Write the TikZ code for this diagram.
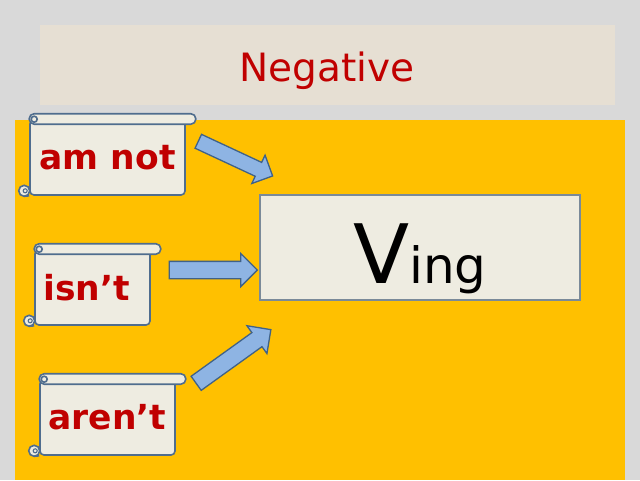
\documentclass[tikz,border=0pt]{standalone}
\usepackage{fontspec}
\setmainfont{DejaVu Sans}
\usetikzlibrary{calc,shapes.arrows}
\definecolor{bggray}{HTML}{D9D9D9}
\definecolor{titlebg}{HTML}{E6DFD3}
\definecolor{panel}{HTML}{FFC000}
\definecolor{redtxt}{HTML}{C00000}
\definecolor{scrollfill}{HTML}{EEECE1}
\definecolor{scrollline}{HTML}{4F6D8E}
\definecolor{boxline}{HTML}{7A8A99}
\definecolor{arrowfill}{HTML}{8EB4E3}
\definecolor{arrowline}{HTML}{3F6288}
\tikzset{
  scrollstyle/.style={draw=scrollline, line width=1.6pt},
  scrollbody/.style={scrollstyle, fill=scrollfill, rectangle, rounded corners=4pt,
     inner sep=0pt, text=redtxt, font=\fontsize{34.5}{34.5}\selectfont\bfseries},
  blockarrow/.style={single arrow, draw=arrowline, fill=arrowfill, line width=1.3pt,
     inner xsep=0pt, single arrow tip angle=90, single arrow head indent=0pt},
}
\newcommand\scrolldeco[1]{%
  \draw[scrollstyle, fill=scrollfill, rounded corners=5pt]
     ($(#1.north west)+(0,-5.5)$) rectangle ($(#1.north east)+(10,5)$);
  \draw[scrollstyle] ($(#1.north west)+(5,0)$) circle (3pt);
  \draw[scrollstyle, fill=scrollfill] ($(#1.south west)+(-5,-5)$) circle (5.5pt);
  \draw[scrollstyle] ($(#1.south west)+(-5,0.5)$) -- (#1.south west);
  \draw[scrollstyle, line width=1.1pt] ($(#1.south west)+(-4,-5)$) circle (2pt);
}
\begin{document}
\begin{tikzpicture}[x=1pt,y=-1pt]
  \useasboundingbox (0,0) rectangle (640,480);
  \fill[bggray] (0,0) rectangle (640,480);
  % title band
  \fill[titlebg] (40,25) rectangle (615,105);
  \node[text=redtxt, font=\fontsize{39}{39}\selectfont] (title) at (327,71) {Negative};
  % orange panel
  \fill[panel] (15,120) rectangle (625,480);
  % scrolls
  \node[scrollbody, minimum width=155pt, minimum height=75pt] (amnot) at (107.5,157.5) {am not};
  \scrolldeco{amnot}
  \node[scrollbody, minimum width=115pt, minimum height=75pt] (isnt) at (92.5,287.5) {\hspace*{-12pt}isn’t};
  \scrolldeco{isnt}
  \node[scrollbody, minimum width=135pt, minimum height=75pt] (arent) at (107.5,417.5) {aren’t};
  \scrolldeco{arent}
  % Ving box
  \node[draw=boxline, fill=scrollfill, line width=1.3pt, minimum width=320pt, minimum height=105pt,
        text height=80pt, text depth=8pt, inner sep=0pt] (ving) at (420,247.5)
        {\fontsize{82}{82}\selectfont V\fontsize{50}{50}\selectfont ing};
  % arrows
  \node[blockarrow, minimum height=82pt, inner ysep=7pt, single arrow head extend=8pt,
        rotate=-25] (a1) at (232,157) {};
  \node[blockarrow, minimum height=88pt, inner ysep=8pt, single arrow head extend=8pt]
        (a2) at (209,270) {};
  \node[blockarrow, minimum height=92pt, inner ysep=8pt, single arrow head extend=8.5pt,
        rotate=35.7] (a3) at (230,359) {};
\end{tikzpicture}
\end{document}
